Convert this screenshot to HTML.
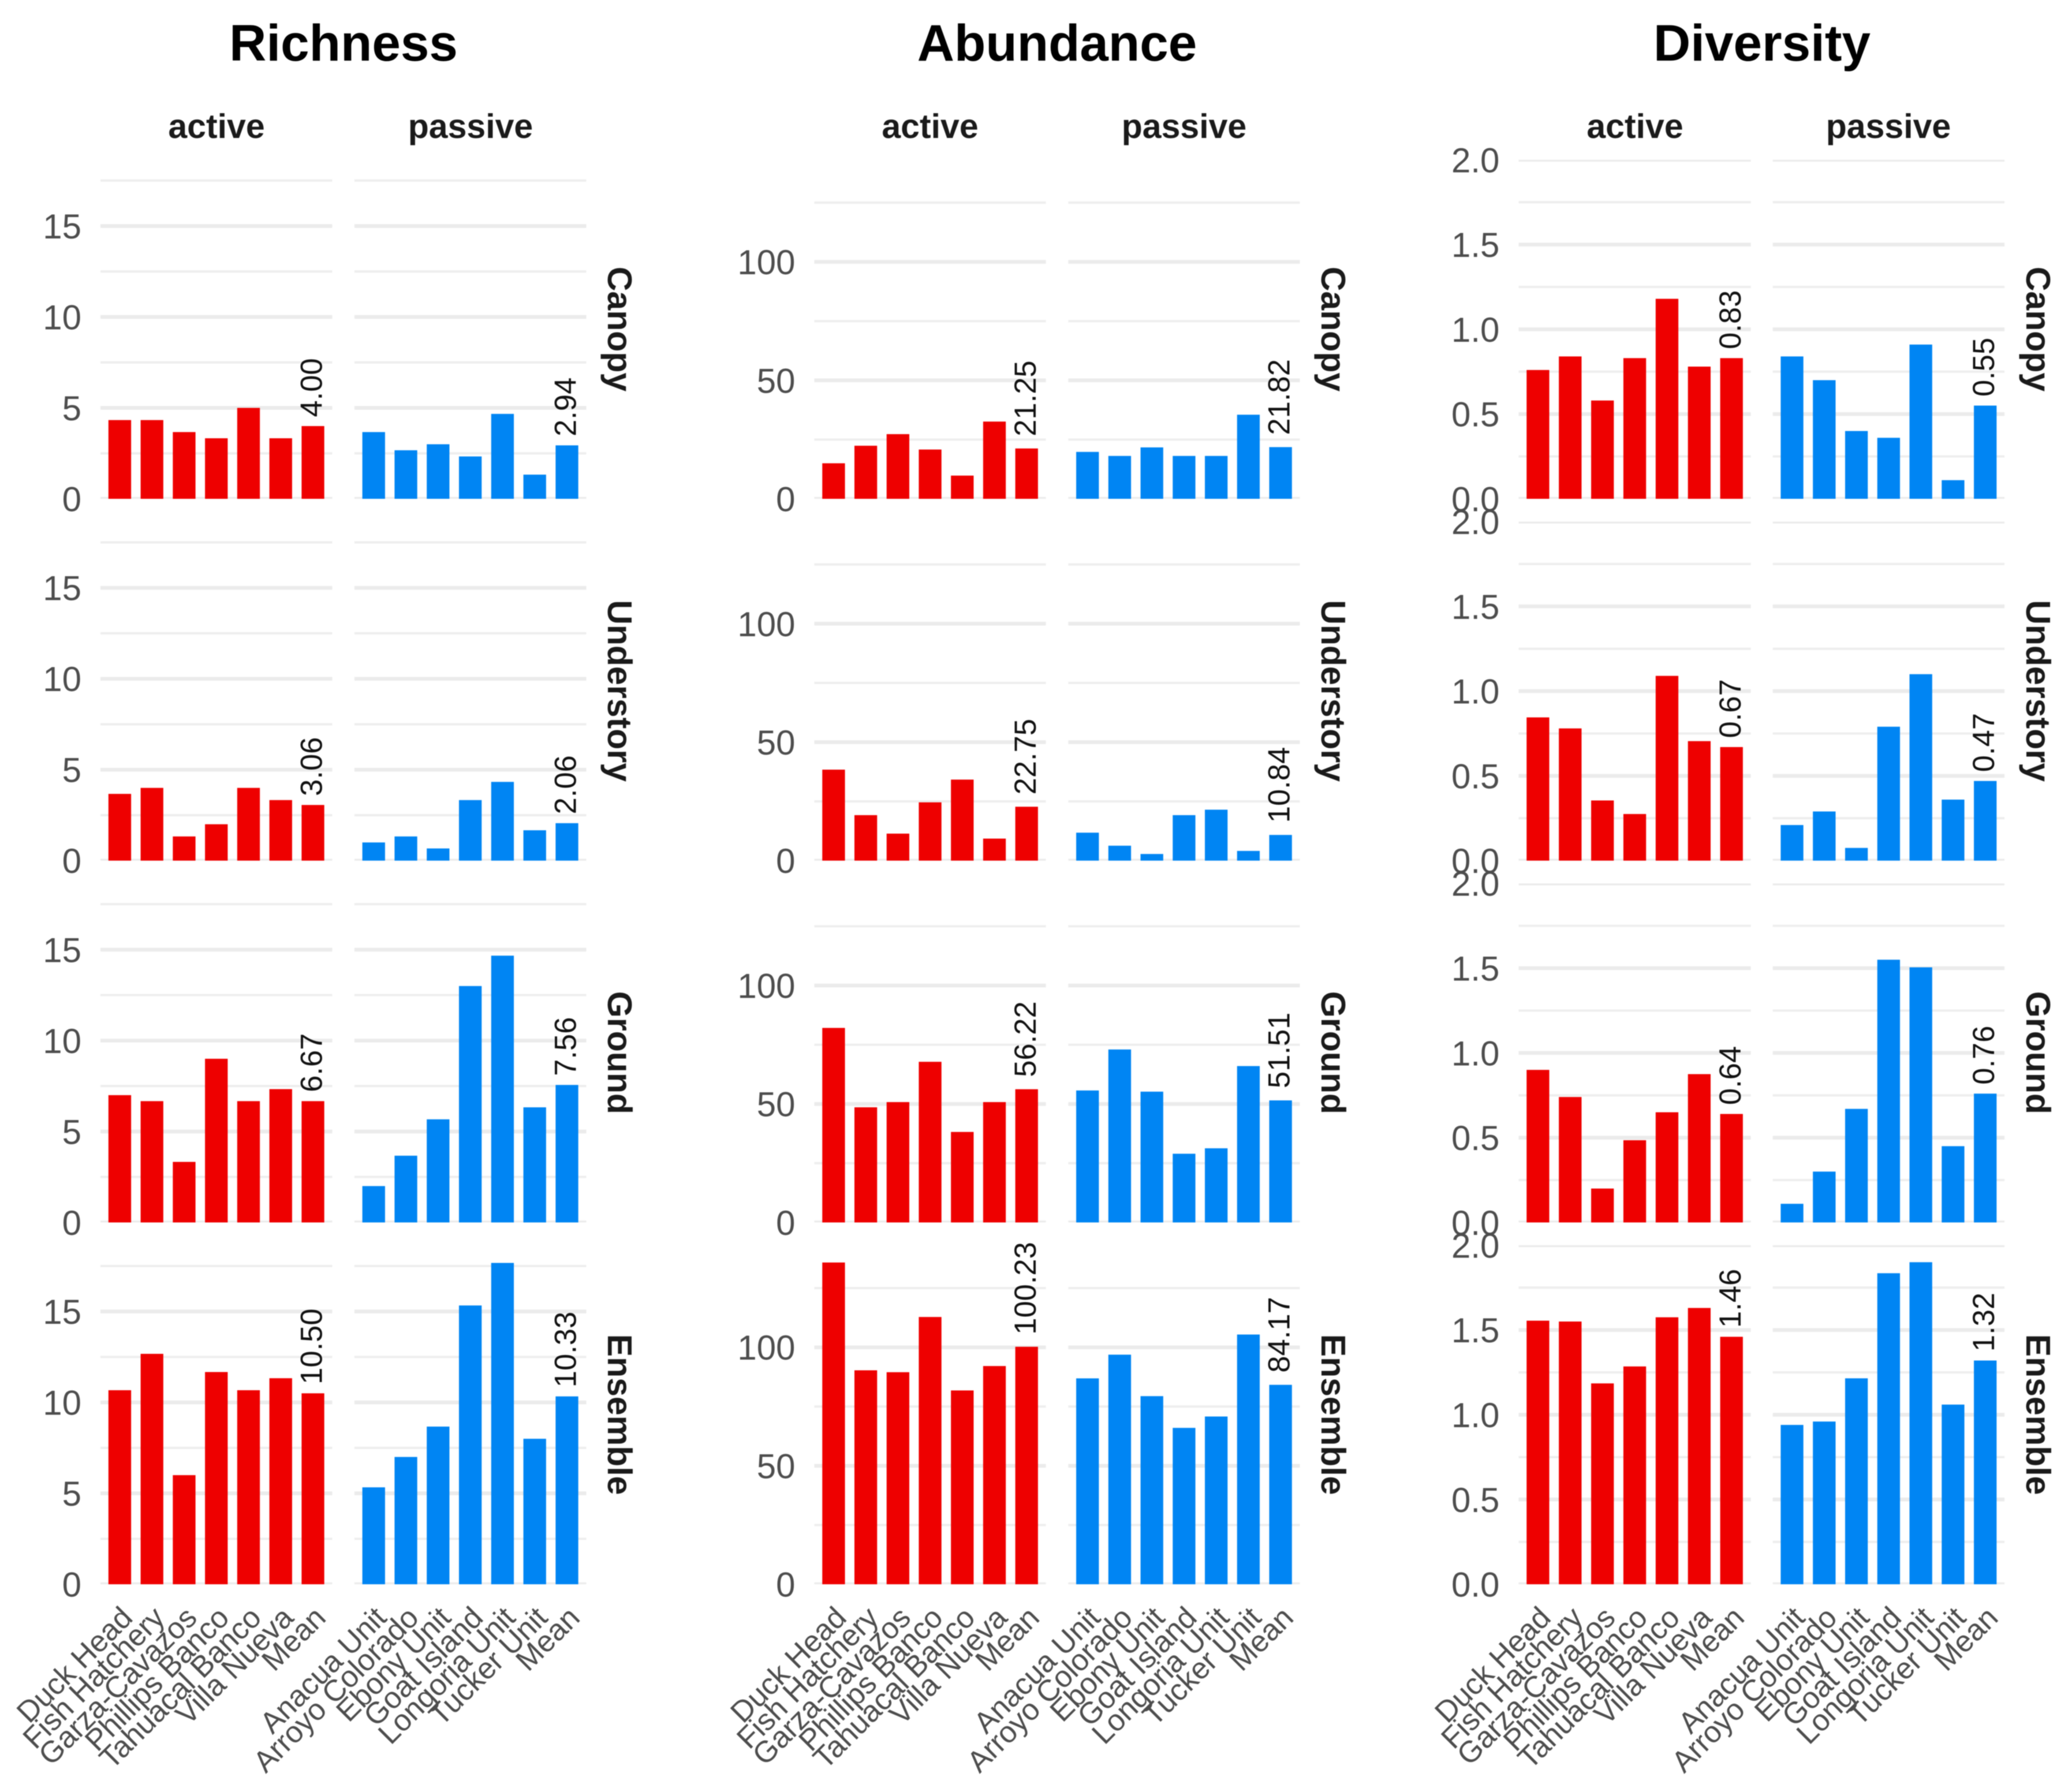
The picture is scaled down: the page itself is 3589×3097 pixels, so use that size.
<!DOCTYPE html>
<html lang="en">
<head>
<meta charset="utf-8">
<title>Richness, Abundance and Diversity by stratum</title>
<style>
  html, body { margin: 0; padding: 0; background: #fff; }
  svg { display: block; filter: blur(0.7px); }
  text { font-family: "Liberation Sans", Arial, sans-serif; }
  .title { font-size: 89px; font-weight: bold; fill: #000; text-anchor: middle; }
  .strip { font-size: 59px; font-weight: bold; fill: #1a1a1a; text-anchor: middle; }
</style>
</head>
<body>
<svg id="figure" xmlns="http://www.w3.org/2000/svg" width="3589" height="3097" viewBox="0 0 3589 3097">
  <rect x="0" y="0" width="3589" height="3097" fill="#ffffff"/>

  <text class="title" x="595" y="105">Richness</text>
  <text class="title" x="1831" y="105">Abundance</text>
  <text class="title" x="3052" y="105">Diversity</text>

  <text class="strip" x="375" y="239">active</text>
  <text class="strip" x="815" y="239">passive</text>
  <text class="strip" x="1611" y="239">active</text>
  <text class="strip" x="2051" y="239">passive</text>
  <text class="strip" x="2832" y="239">active</text>
  <text class="strip" x="3271" y="239">passive</text>

  <text class="strip" transform="rotate(90 1053 570)" x="1053" y="570">Canopy</text>
  <text class="strip" transform="rotate(90 1053 1196.7)" x="1053" y="1196.7">Understory</text>
  <text class="strip" transform="rotate(90 1053 1823.4)" x="1053" y="1823.4">Ground</text>
  <text class="strip" transform="rotate(90 1053 2450.1)" x="1053" y="2450.1">Ensemble</text>

  <text class="strip" transform="rotate(90 2289 570)" x="2289" y="570">Canopy</text>
  <text class="strip" transform="rotate(90 2289 1196.7)" x="2289" y="1196.7">Understory</text>
  <text class="strip" transform="rotate(90 2289 1823.4)" x="2289" y="1823.4">Ground</text>
  <text class="strip" transform="rotate(90 2289 2450.1)" x="2289" y="2450.1">Ensemble</text>

  <text class="strip" transform="rotate(90 3510 570)" x="3510" y="570">Canopy</text>
  <text class="strip" transform="rotate(90 3510 1196.7)" x="3510" y="1196.7">Understory</text>
  <text class="strip" transform="rotate(90 3510 1823.4)" x="3510" y="1823.4">Ground</text>
  <text class="strip" transform="rotate(90 3510 2450.1)" x="3510" y="2450.1">Ensemble</text>
</svg>

<script>
// ---------- categories ----------
const activeSites = ['Duck Head', 'Fish Hatchery', 'Garza-Cavazos', 'Phillips Banco', 'Tahuacal Banco', 'Villa Nueva', 'Mean'];
const passiveSites = ['Anacua Unit', 'Arroyo Colorado', 'Ebony Unit', 'Goat Island', 'Longoria Unit', 'Tucker Unit', 'Mean'];
const strata = ['canopy', 'understory', 'ground', 'ensemble'];

// ---------- axis ticks ----------
const richnessTicks = [0, 5, 10, 15];
const richnessMinorTicks = [2.5, 7.5, 12.5, 17.5];
const richnessTickLabels = ['0', '5', '10', '15'];
const abundanceTicks = [0, 50, 100];
const abundanceMinorTicks = [25, 75, 125];
const abundanceTickLabels = ['0', '50', '100'];
const diversityTicks = [0, 0.5, 1, 1.5, 2];
const diversityMinorTicks = [0.25, 0.75, 1.25, 1.75];
const diversityTickLabels = ['0.0', '0.5', '1.0', '1.5', '2.0'];

// ---------- richness values ----------
const richnessCanopyActive = [4.33, 4.33, 3.67, 3.33, 5.00, 3.33, 4.00];
const richnessCanopyPassive = [3.67, 2.67, 3.00, 2.33, 4.67, 1.33, 2.94];
const richnessUnderstoryActive = [3.67, 4.00, 1.33, 2.00, 4.00, 3.33, 3.06];
const richnessUnderstoryPassive = [1.00, 1.33, 0.67, 3.33, 4.33, 1.67, 2.06];
const richnessGroundActive = [7.00, 6.67, 3.33, 9.00, 6.67, 7.33, 6.67];
const richnessGroundPassive = [2.00, 3.67, 5.67, 13.00, 14.67, 6.33, 7.56];
const richnessEnsembleActive = [10.67, 12.67, 6.00, 11.67, 10.67, 11.33, 10.50];
const richnessEnsemblePassive = [5.33, 7.00, 8.67, 15.33, 17.67, 8.00, 10.33];

// ---------- abundance values ----------
const abundanceCanopyActive = [15.0, 22.4, 27.3, 20.8, 9.8, 32.6, 21.25];
const abundanceCanopyPassive = [19.8, 18.1, 21.7, 18.1, 18.1, 35.5, 21.82];
const abundanceUnderstoryActive = [38.4, 19.2, 11.4, 24.6, 34.2, 9.3, 22.75];
const abundanceUnderstoryPassive = [11.8, 6.3, 2.8, 19.2, 21.5, 4.1, 10.84];
const abundanceGroundActive = [82.1, 48.6, 50.8, 67.8, 38.2, 50.8, 56.22];
const abundanceGroundPassive = [55.7, 73.0, 55.2, 29.0, 31.3, 66.0, 51.51];
const abundanceEnsembleActive = [135.8, 90.3, 89.5, 112.8, 81.8, 92.1, 100.23];
const abundanceEnsemblePassive = [86.9, 96.9, 79.4, 66.0, 70.8, 105.4, 84.17];

// ---------- diversity values ----------
const diversityCanopyActive = [0.76, 0.84, 0.58, 0.83, 1.18, 0.78, 0.83];
const diversityCanopyPassive = [0.84, 0.70, 0.40, 0.36, 0.91, 0.11, 0.55];
const diversityUnderstoryActive = [0.845, 0.78, 0.355, 0.275, 1.09, 0.705, 0.67];
const diversityUnderstoryPassive = [0.21, 0.29, 0.075, 0.79, 1.10, 0.36, 0.47];
const diversityGroundActive = [0.90, 0.74, 0.20, 0.485, 0.65, 0.875, 0.64];
const diversityGroundPassive = [0.11, 0.30, 0.67, 1.55, 1.505, 0.45, 0.76];
const diversityEnsembleActive = [1.555, 1.55, 1.185, 1.285, 1.575, 1.63, 1.46];
const diversityEnsemblePassive = [0.94, 0.96, 1.215, 1.835, 1.90, 1.06, 1.32];

// ---------- layout and scales ----------
const SVG_NS = 'http://www.w3.org/2000/svg';
const figure = document.getElementById('figure');
const PANEL_HEIGHT = 587.2;
const ROW_STEP = 626.7;
const FIRST_ZERO = 864;
const BAR_WIDTH = 39.3;
const RED = '#ee0000';
const BLUE = '#0085f3';

function rowZero(row) { return FIRST_ZERO + row * ROW_STEP; }
function yScale(value, row, pxPerUnit) { return rowZero(row) - value * pxPerUnit; }
function xScale(index, left, right) { return left + (index + 0.6) * (right - left) / 7.2; }

function make(tag, attrs, parent) {
  const el = document.createElementNS(SVG_NS, tag);
  Object.keys(attrs).forEach(function (k) { el.setAttribute(k, attrs[k]); });
  if (parent) parent.appendChild(el);
  return el;
}

function drawPanel(metric, side, row, values, left, right, pxPerUnit, majors, minors, sites, color, labelGap) {
  const stratum = strata[row];
  const zero = rowZero(row);
  const clipId = 'clip-' + metric + '-' + side + '-' + row;

  const group = make('g', {}, figure);
  
  

  const defs = make('defs', {}, group);
  const clip = make('clipPath', { id: clipId }, defs);
  make('rect', { x: left, y: zero - PANEL_HEIGHT, width: right - left, height: PANEL_HEIGHT }, clip);

  minors.forEach(function (tick) {
    const y = yScale(tick, row, pxPerUnit);
    const line = make('line', { x1: left, x2: right, y1: y, y2: y, stroke: '#eeeeee', 'stroke-width': 4, 'clip-path': 'url(#' + clipId + ')' }, group);
    
    
  });
  majors.forEach(function (tick) {
    const y = yScale(tick, row, pxPerUnit);
    const line = make('line', { x1: left, x2: right, y1: y, y2: y, stroke: '#ebebeb', 'stroke-width': 6.5, 'clip-path': 'url(#' + clipId + ')' }, group);
    
    
  });

  values.forEach(function (value, i) {
    const cx = xScale(i, left, right);
    const top = yScale(value, row, pxPerUnit);
    const bar = make('rect', { x: cx - BAR_WIDTH / 2, y: top, width: BAR_WIDTH, height: zero - top, fill: color }, group);
    
    
  });

  const meanIndex = values.length - 1;
  const labelX = xScale(meanIndex, left, right) + 15.5;
  const labelY = yScale(values[meanIndex], row, pxPerUnit) - labelGap;
  const meanLabel = make('text', {
    x: labelX, y: labelY, 'font-size': 52.5, fill: '#111111',
    transform: 'rotate(-90 ' + labelX + ' ' + labelY + ')'
  }, group);
  meanLabel.textContent = values[meanIndex].toFixed(2);
  
  
}

function drawYAxis(metric, row, left, pxPerUnit, ticks, labels) {
  ticks.forEach(function (tick, i) {
    const label = make('text', {
      x: left - 33, y: yScale(tick, row, pxPerUnit) + 21.5,
      'font-size': 60, fill: '#4d4d4d', 'text-anchor': 'end'
    }, figure);
    label.textContent = labels[i];
    
    
  });
}

function drawXAxis(left, right, sites) {
  sites.forEach(function (site, i) {
    const x = xScale(i, left, right) + 25;
    const y = rowZero(3) + 61;
    const label = make('text', {
      x: x, y: y, 'font-size': 52, fill: '#4d4d4d', 'text-anchor': 'end',
      transform: 'rotate(-45 ' + x + ' ' + y + ')'
    }, figure);
    label.textContent = site;
    
    
  });
}

function drawMetric(metric, activeLeft, activeRight, passiveLeft, passiveRight, pxPerUnit, majors, minors, tickLabels, activeRows, passiveRows, labelGap) {
  strata.forEach(function (stratum, row) {
    drawYAxis(metric, row, activeLeft, pxPerUnit, majors, tickLabels);
    drawPanel(metric, 'active', row, activeRows[row], activeLeft, activeRight, pxPerUnit, majors, minors, activeSites, RED, labelGap);
    drawPanel(metric, 'passive', row, passiveRows[row], passiveLeft, passiveRight, pxPerUnit, majors, minors, passiveSites, BLUE, labelGap);
  });
  drawXAxis(activeLeft, activeRight, activeSites);
  drawXAxis(passiveLeft, passiveRight, passiveSites);
}

drawMetric('richness', 174, 575.5, 613.8, 1015.5, 31.5,
  richnessTicks, richnessMinorTicks, richnessTickLabels,
  [richnessCanopyActive, richnessUnderstoryActive, richnessGroundActive, richnessEnsembleActive],
  [richnessCanopyPassive, richnessUnderstoryPassive, richnessGroundPassive, richnessEnsemblePassive], 15.5);

drawMetric('abundance', 1410.5, 1811.7, 1850.3, 2251.6, 4.104,
  abundanceTicks, abundanceMinorTicks, abundanceTickLabels,
  [abundanceCanopyActive, abundanceUnderstoryActive, abundanceGroundActive, abundanceEnsembleActive],
  [abundanceCanopyPassive, abundanceUnderstoryPassive, abundanceGroundPassive, abundanceEnsemblePassive], 21);

drawMetric('diversity', 2630.4, 3032.8, 3070.6, 3472.2, 293.6,
  diversityTicks, diversityMinorTicks, diversityTickLabels,
  [diversityCanopyActive, diversityUnderstoryActive, diversityGroundActive, diversityEnsembleActive],
  [diversityCanopyPassive, diversityUnderstoryPassive, diversityGroundPassive, diversityEnsemblePassive], 15.5);
</script>
</body>
</html>
